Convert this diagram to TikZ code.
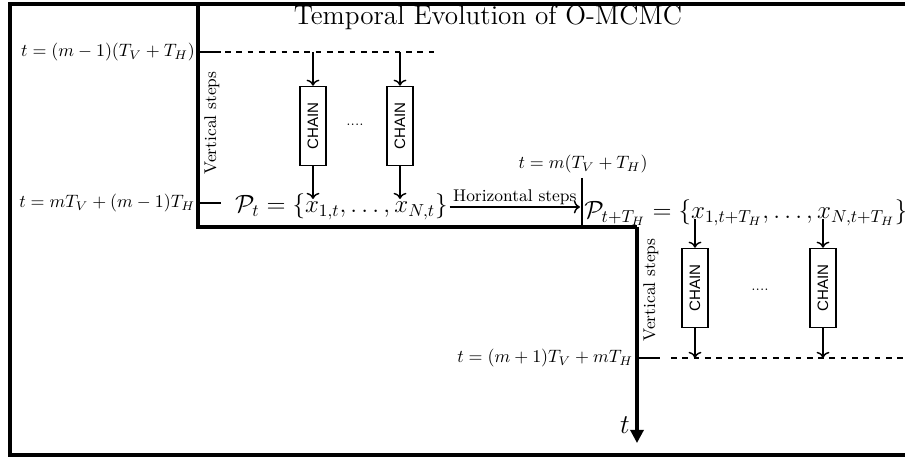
\documentclass[tikz,border=0pt]{standalone}
\usepackage{fontspec}
\usepackage{amsmath,amssymb}
\usetikzlibrary{arrows.meta,positioning,calc}
\newfontfamily\chainfont{Liberation Sans}
\tikzset{
  chainbox/.style={draw,line width=.65pt,minimum width=13.8pt,minimum height=42pt,inner sep=0pt},
  chainlbl/.style={rotate=90,font=\chainfont\footnotesize},
  flow/.style={->,line width=.75pt},
  axis/.style={line width=1.6pt},
  tickline/.style={line width=.75pt},
  dashline/.style={line width=.75pt,dashed},
  steplbl/.style={font=\small,inner sep=1pt},
  timelbl/.style={scale=.95,inner sep=1pt}
}
\begin{document}
\begin{tikzpicture}[x=.53pt,y=-.53pt]
  \useasboundingbox (0,0) rectangle (905,458);
  \draw[axis] (905,4) -- (10,4) -- (10,455) -- (905,455);

  \node[font=\Large] (title) at (488,18) {Temporal Evolution of O-MCMC};

  \coordinate (c0) at (198,4);
  \coordinate (c1) at (198,227);
  \coordinate (c2) at (637,227);
  \coordinate (tend) at (637,443);
  \draw[axis] (c0) -- (c1) -- (c2);
  \draw[axis,-{Triangle[width=7pt,length=7pt]}] (c2) -- (tend);
  \node[font=\Large,anchor=south east,inner sep=1pt] (tlbl) at (632,436) {$t$};

  \coordinate (a0) at (198,52);
  \coordinate (a1) at (221,52);
  \coordinate (a2) at (225,52);
  \coordinate (a3) at (440,52);
  \draw[tickline] (a0) -- (a1);
  \draw[dashline] (a2) -- (a3);
  \node[timelbl,anchor=east] (lblA) at (197,52) {$t=(m-1)(T_V+T_H)$};

  \coordinate (b0) at (198,203);
  \coordinate (b1) at (221,203);
  \draw[tickline] (b0) -- (b1);
  \node[timelbl,anchor=east] (lblB) at (197,203) {$t=mT_V+(m-1)T_H$};

  \node[steplbl,rotate=90] (vs1) at (212,123) {Vertical steps};

  \node[chainbox] (ch1) at (313,126) {}; \node[chainlbl] at (ch1) {CHAIN};
  \node[chainbox] (ch2) at (400,126) {}; \node[chainlbl] at (ch2) {CHAIN};
  \node (dots1) at (355,125) {\scriptsize....};

  \node[font=\Large,scale=.92,inner sep=1pt,anchor=west] (pt) at (233,207) {$\mathcal{P}_t=\{x_{1,t},\ldots,x_{N,t}\}$};
  \coordinate (x1t) at (313,199);
  \coordinate (xNt) at (400,199);
  \draw[flow] (ch1 |- a0) -- (ch1.north);
  \draw[flow] (ch2 |- a0) -- (ch2.north);
  \draw[flow] (ch1.south) -- (x1t);
  \draw[flow] (ch2.south) -- (xNt);

  \coordinate (h1) at (580,207);
  \draw[flow] (pt.east |- h1) -- node[steplbl,above] (hs) {Horizontal steps} (h1);

  \coordinate (m0) at (582,178);
  \coordinate (m1) at (582,227);
  \draw[tickline] (m0) -- (m1);
  \node[timelbl] (lblM) at (583,164) {$t=m(T_V+T_H)$};

  \node[font=\Large,scale=.92,inner sep=0pt,anchor=west] (ptH) at (584,213) {$\mathcal{P}_{t+T_H}=\{x_{1,t+T_H},\ldots,x_{N,t+T_H}\}$};

  \node[steplbl,rotate=90] (vs2) at (651,290) {Vertical steps};

  \node[chainbox] (ch3) at (695,288) {}; \node[chainlbl] at (ch3) {CHAIN};
  \node[chainbox] (ch4) at (823,288) {}; \node[chainlbl] at (ch4) {CHAIN};
  \node (dots2) at (760,290) {\scriptsize....};

  \coordinate (x1h) at (695,219);
  \coordinate (xNh) at (823,219);
  \coordinate (d0) at (637,358);
  \coordinate (d1) at (660,358);
  \coordinate (d2) at (671,358);
  \coordinate (d3) at (905,358);
  \draw[flow] (x1h) -- (ch3.north);
  \draw[flow] (xNh) -- (ch4.north);
  \draw[flow] (ch3.south) -- (ch3 |- d0);
  \draw[flow] (ch4.south) -- (ch4 |- d0);
  \draw[tickline] (d0) -- (d1);
  \draw[dashline] (d2) -- (d3);
  \node[timelbl,anchor=east] (lblD) at (635,358) {$t=(m+1)T_V+mT_H$};
\end{tikzpicture}
\end{document}
